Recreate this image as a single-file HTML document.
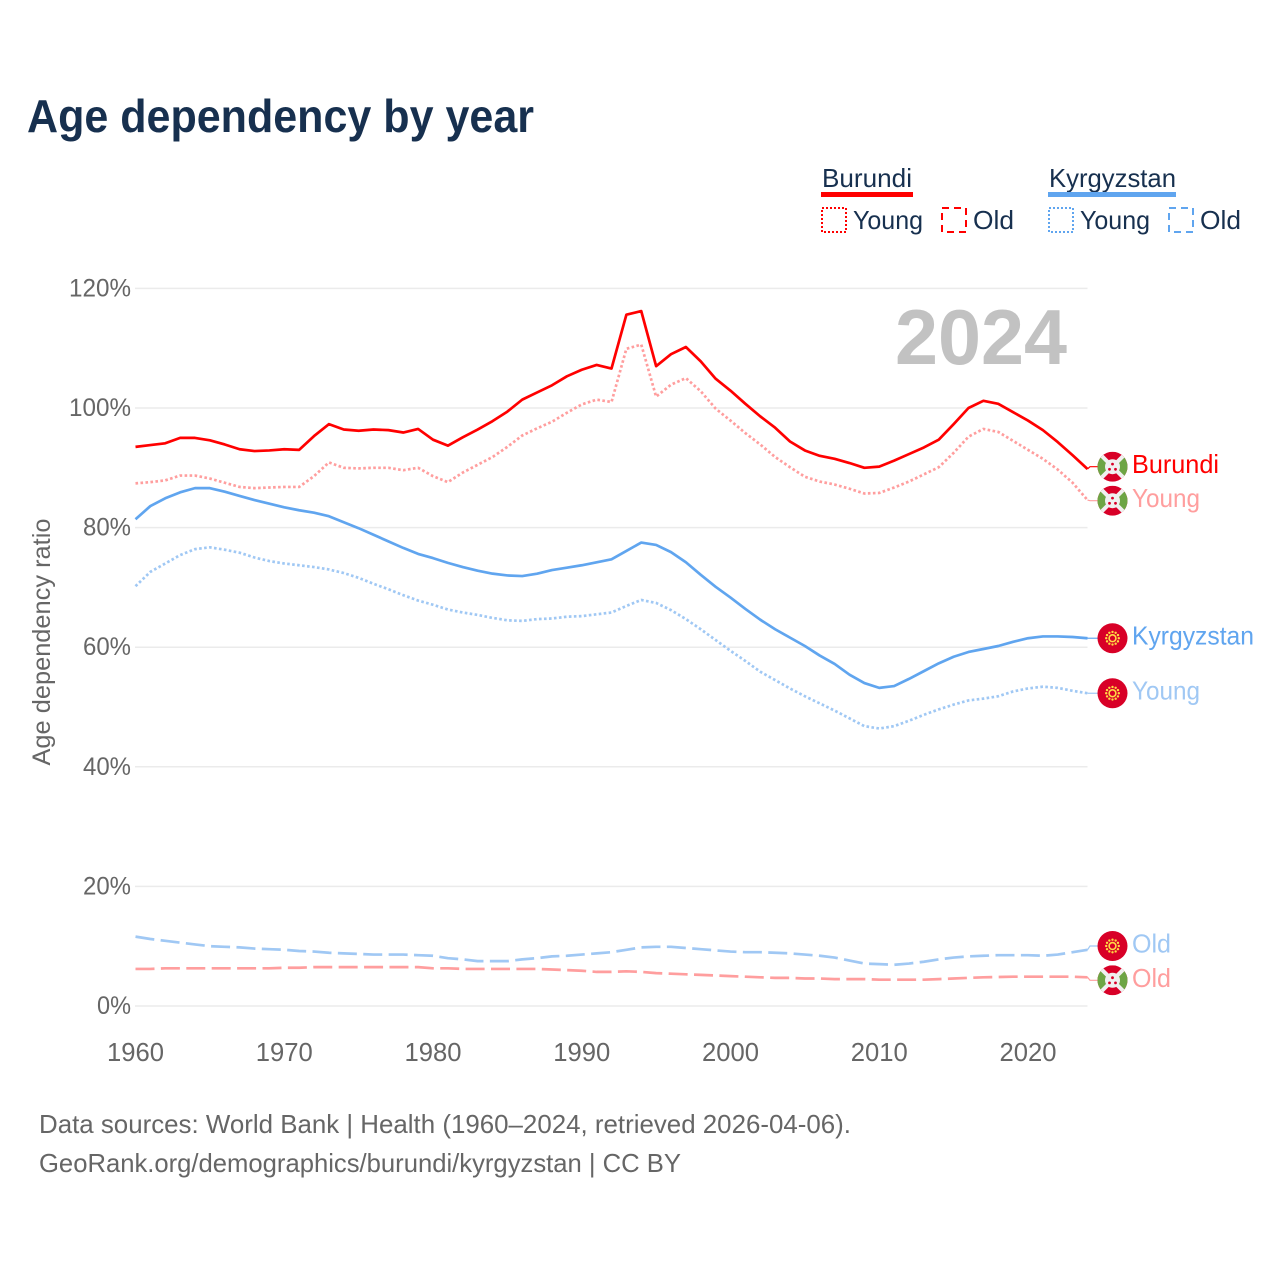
<!DOCTYPE html>
<html lang="en">
<head>
<meta charset="utf-8">
<title>Age dependency by year</title>
<style>
html,body{margin:0;padding:0;background:#fff;width:1280px;height:1280px;overflow:hidden}
svg{display:block}
text{font-family:"Liberation Sans",sans-serif}
</style>
</head>
<body>
<svg id="chart" width="1280" height="1280" viewBox="0 0 1280 1280" xmlns="http://www.w3.org/2000/svg">
  <rect width="1280" height="1280" fill="#ffffff"/>
  <text x="27" y="132" font-size="46" font-weight="700" fill="#17304f" textLength="507" lengthAdjust="spacingAndGlyphs">Age dependency by year</text>

  <g>
    <g>
      <text x="822" y="187" font-size="26" fill="#17304f" textLength="90" lengthAdjust="spacingAndGlyphs">Burundi</text>
      <rect x="821" y="192" width="92" height="5" fill="#ff0000"/>
      <rect x="822" y="208" width="24" height="24" fill="none" stroke="#ff0000" stroke-width="2" stroke-dasharray="2 2"/>
      <text x="853" y="229" font-size="26" fill="#17304f" textLength="70" lengthAdjust="spacingAndGlyphs">Young</text>
      <rect x="942" y="208" width="24" height="24" fill="none" stroke="#ff0000" stroke-width="2" stroke-dasharray="7 5"/>
      <text x="973" y="229" font-size="26" fill="#17304f" textLength="41" lengthAdjust="spacingAndGlyphs">Old</text>
    </g>
    <g>
      <text x="1049" y="187" font-size="26" fill="#17304f" textLength="127" lengthAdjust="spacingAndGlyphs">Kyrgyzstan</text>
      <rect x="1048" y="192" width="128" height="5" fill="#60a5ef"/>
      <rect x="1049" y="208" width="24" height="24" fill="none" stroke="#60a5ef" stroke-width="2" stroke-dasharray="2 2"/>
      <text x="1080" y="229" font-size="26" fill="#17304f" textLength="70" lengthAdjust="spacingAndGlyphs">Young</text>
      <rect x="1169" y="208" width="24" height="24" fill="none" stroke="#60a5ef" stroke-width="2" stroke-dasharray="7 5"/>
      <text x="1200" y="229" font-size="26" fill="#17304f" textLength="41" lengthAdjust="spacingAndGlyphs">Old</text>
    </g>
  </g>

  <g id="grid"></g>
  <g id="yticks"></g>
  <g id="xticks"></g>
  <text transform="translate(50,642) rotate(-90)" text-anchor="middle" font-size="25" fill="#666666" textLength="247" lengthAdjust="spacingAndGlyphs">Age dependency ratio</text>
  <text x="895" y="364" font-size="78" font-weight="700" fill="#c2c2c2" textLength="172" lengthAdjust="spacingAndGlyphs">2024</text>
  <g id="series"></g>
  <g id="endlabels"></g>

  <text x="39" y="1133" font-size="26" fill="#666666" textLength="812" lengthAdjust="spacingAndGlyphs">Data sources: World Bank | Health (1960–2024, retrieved 2026-04-06).</text>
  <text x="39" y="1172" font-size="26" fill="#666666" textLength="642" lengthAdjust="spacingAndGlyphs">GeoRank.org/demographics/burundi/kyrgyzstan | CC BY</text>
</svg>
<script>
const startYear = 1960;
const xTickLabels = [1960, 1970, 1980, 1990, 2000, 2010, 2020];
const yTickValues = [0, 20, 40, 60, 80, 100, 120];

const burundiTotal = [93.5,93.8,94.1,95.0,95.0,94.6,93.9,93.1,92.8,92.9,93.1,93.0,95.3,97.3,96.4,96.2,96.4,96.3,95.9,96.5,94.7,93.7,
  95.1,96.4,97.8,99.4,101.4,102.6,103.8,105.3,106.4,107.2,106.6,115.6,116.2,107.0,109.0,110.2,107.8,104.9,102.9,100.7,98.6,
  96.7,94.4,92.9,92.0,91.5,90.8,90.0,90.2,91.2,92.3,93.4,94.7,97.3,100.0,101.2,100.7,99.3,97.9,96.3,94.3,92.1,89.8];
const burundiYoung = [87.4,87.6,87.9,88.7,88.7,88.2,87.5,86.8,86.6,86.7,86.8,86.8,88.6,90.9,90.0,89.9,90.0,90.0,89.6,90.0,88.6,87.6,
  89.2,90.5,91.8,93.5,95.4,96.6,97.7,99.2,100.6,101.4,101.0,109.9,110.6,101.9,103.9,105.0,102.8,99.9,97.9,95.8,93.9,
  91.8,90.1,88.5,87.7,87.2,86.5,85.7,85.8,86.7,87.7,88.9,90.1,92.5,95.2,96.5,96.0,94.5,93.0,91.5,89.7,87.5,84.6];
const burundiOld = [6.2,6.2,6.3,6.3,6.3,6.3,6.3,6.3,6.3,6.3,6.4,6.4,6.5,6.5,6.5,6.5,6.5,6.5,6.5,6.5,6.3,6.3,6.2,6.2,6.2,6.2,6.2,6.2,6.1,6.0,5.9,5.7,
  5.7,5.8,5.7,5.5,5.4,5.3,5.2,5.1,5.0,4.9,4.8,4.7,4.7,4.6,4.6,4.5,4.5,4.5,4.4,4.4,4.4,4.4,4.5,4.6,4.7,4.8,4.85,4.9,4.9,4.9,4.9,4.9,4.8];
const kyrgyzstanTotal = [81.4,83.6,84.9,85.9,86.6,86.6,86.0,85.3,84.6,84.0,83.4,82.9,82.5,81.9,80.9,79.9,78.8,77.7,76.6,
  75.6,74.9,74.1,73.4,72.8,72.3,72.0,71.9,72.3,72.9,73.3,73.7,74.2,74.7,76.1,77.5,77.1,75.9,74.2,72.1,70.1,68.3,66.4,64.6,
  63.0,61.6,60.2,58.6,57.2,55.4,54.0,53.2,53.5,54.7,56.0,57.3,58.4,59.2,59.7,60.2,60.9,61.5,61.8,61.8,61.7,61.5];
const kyrgyzstanYoung = [70.2,72.6,74.0,75.4,76.4,76.7,76.3,75.8,75.0,74.4,74.0,73.7,73.4,73.0,72.4,71.6,70.6,69.7,68.7,
  67.8,67.1,66.3,65.8,65.4,64.9,64.5,64.4,64.7,64.8,65.1,65.2,65.5,65.8,66.9,67.9,67.4,66.2,64.7,63.0,61.2,59.4,57.7,
  55.9,54.5,53.1,51.8,50.6,49.4,48.1,46.8,46.4,46.8,47.7,48.7,49.6,50.4,51.1,51.4,51.8,52.6,53.1,53.4,53.2,52.7,52.3];
const kyrgyzstanOld = [11.6,11.2,10.9,10.6,10.3,10.0,9.9,9.8,9.6,9.5,9.4,9.2,9.1,8.9,8.8,8.7,8.6,8.6,8.6,8.5,8.4,8.0,7.8,7.5,7.5,7.5,7.8,8.0,8.3,8.4,8.6,8.8,
  9.0,9.4,9.8,9.9,9.9,9.7,9.5,9.3,9.1,9.0,9.0,8.9,8.8,8.6,8.4,8.1,7.6,7.1,7.0,6.9,7.1,7.4,7.8,8.1,8.3,8.4,8.5,8.5,8.5,8.4,8.6,9.0,9.4];

const NS = 'http://www.w3.org/2000/svg';
const xScale = year => 135.5 + (year - startYear) * 14.875;
const yScale = value => 1006 - value * 5.98;

function make(tag, parent, attrs) {
  const el = document.createElementNS(NS, tag);
  for (const k in attrs) el.setAttribute(k, attrs[k]);
  parent.appendChild(el);
  return el;
}

const gridLayer = document.getElementById('grid');
const yTickLayer = document.getElementById('yticks');
const xTickLayer = document.getElementById('xticks');
const seriesLayer = document.getElementById('series');
const labelLayer = document.getElementById('endlabels');

yTickValues.forEach(v => {
  const line = make('line', gridLayer, {x1: 135, x2: 1087.5, y1: yScale(v), y2: yScale(v), stroke: '#ebebeb', 'stroke-width': 1.5});
  
  
  const label = v + '%';
  const t = make('text', yTickLayer, {x: 131, y: yScale(v) + 8, 'text-anchor': 'end', 'font-size': 25, fill: '#666666', textLength: String(v).length * 14 + 20, lengthAdjust: 'spacingAndGlyphs'});
  t.textContent = label;
  
  
});

xTickLabels.forEach(year => {
  const t = make('text', xTickLayer, {x: xScale(year), y: 1061, 'text-anchor': 'middle', 'font-size': 26, fill: '#666666', textLength: 57, lengthAdjust: 'spacingAndGlyphs'});
  t.textContent = year;
  
  
});

const DOT = '2.6 2.4', DASH = '19 6.4';
const RED = '#ff0000', BLUE = '#60a5ef', LRED = '#ff9e9e', LBLUE = '#a0c8f4';

function drawSeries(name, values, color, dash) {
  const d = values.map((v, i) => (i ? 'L' : 'M') + xScale(startYear + i).toFixed(2) + ' ' + yScale(v).toFixed(2)).join(' ');
  const p = make('path', seriesLayer, {d: d, fill: 'none', stroke: color, 'stroke-width': 2.7, 'stroke-linejoin': 'round'});
  if (dash) p.setAttribute('stroke-dasharray', dash);
  
  
}

function drawBurundiFlag(g, id) {
  const clip = make('clipPath', g, {id: id});
  make('circle', clip, {r: 15});
  const inner = make('g', g, {'clip-path': 'url(#' + id + ')'});
  make('rect', inner, {x: -15, y: -15, width: 30, height: 30, fill: '#d80027'});
  make('polygon', inner, {points: '0,0 -16,-16 -16,16', fill: '#6da544'});
  make('polygon', inner, {points: '0,0 16,-16 16,16', fill: '#6da544'});
  make('line', inner, {x1: -15, y1: -15, x2: 15, y2: 15, stroke: '#f0f0f0', 'stroke-width': 4});
  make('line', inner, {x1: 15, y1: -15, x2: -15, y2: 15, stroke: '#f0f0f0', 'stroke-width': 4});
  make('circle', inner, {r: 7.5, fill: '#f0f0f0'});
  make('circle', inner, {cx: 0, cy: -2.6, r: 1.4, fill: '#d80027'});
  make('circle', inner, {cx: -3, cy: 2.6, r: 1.4, fill: '#d80027'});
  make('circle', inner, {cx: 3, cy: 2.6, r: 1.4, fill: '#d80027'});
}

function drawKyrgyzFlag(g) {
  make('circle', g, {r: 15, fill: '#d80027'});
  make('circle', g, {r: 3.4, fill: 'none', stroke: '#ffda44', 'stroke-width': 1.6});
  for (let a = 0; a < 12; a++) {
    const rad = a * Math.PI / 6;
    make('circle', g, {cx: (6.3 * Math.cos(rad)).toFixed(2), cy: (6.3 * Math.sin(rad)).toFixed(2), r: 1.2, fill: '#ffda44'});
  }
}

function drawEndLabel(name, values, lineColor, textColor, text, width, flag, shift) {
  const endY = yScale(values[values.length - 1]);
  const flagY = endY + shift;
  const endX = xScale(2024);
  const c = make('path', labelLayer, {d: 'M' + endX + ' ' + endY + ' L' + (endX + 2.5) + ' ' + flagY + ' L1098 ' + flagY, fill: 'none', stroke: lineColor, 'stroke-width': 1.2});
  
  
  const g = make('g', labelLayer, {transform: 'translate(1112.5,' + flagY + ')'});
  
  
  if (flag === 'burundi') drawBurundiFlag(g, 'clip-' + name);
  else drawKyrgyzFlag(g);
  const t = make('text', labelLayer, {x: 1132, y: flagY + 6.5, 'font-size': 26, fill: textColor, textLength: width, lengthAdjust: 'spacingAndGlyphs'});
  t.textContent = text;
  
  
}

drawSeries('kyrgyzstan-old', kyrgyzstanOld, LBLUE, DASH);
drawSeries('burundi-old', burundiOld, LRED, DASH);
drawSeries('kyrgyzstan-young', kyrgyzstanYoung, LBLUE, DOT);
drawSeries('burundi-young', burundiYoung, LRED, DOT);
drawSeries('kyrgyzstan-total', kyrgyzstanTotal, BLUE, null);
drawSeries('burundi-total', burundiTotal, RED, null);

drawEndLabel('burundi-total', burundiTotal, RED, RED, 'Burundi', 87, 'burundi', -2.3);
drawEndLabel('burundi-young', burundiYoung, LRED, LRED, 'Young', 68, 'burundi', 0.6);
drawEndLabel('kyrgyzstan-total', kyrgyzstanTotal, BLUE, BLUE, 'Kyrgyzstan', 122, 'kyrgyzstan', 0);
drawEndLabel('kyrgyzstan-young', kyrgyzstanYoung, LBLUE, LBLUE, 'Young', 68, 'kyrgyzstan', 0);
drawEndLabel('kyrgyzstan-old', kyrgyzstanOld, LBLUE, LBLUE, 'Old', 39, 'kyrgyzstan', -3.8);
drawEndLabel('burundi-old', burundiOld, LRED, LRED, 'Old', 39, 'burundi', 3);
</script>
</body>
</html>
